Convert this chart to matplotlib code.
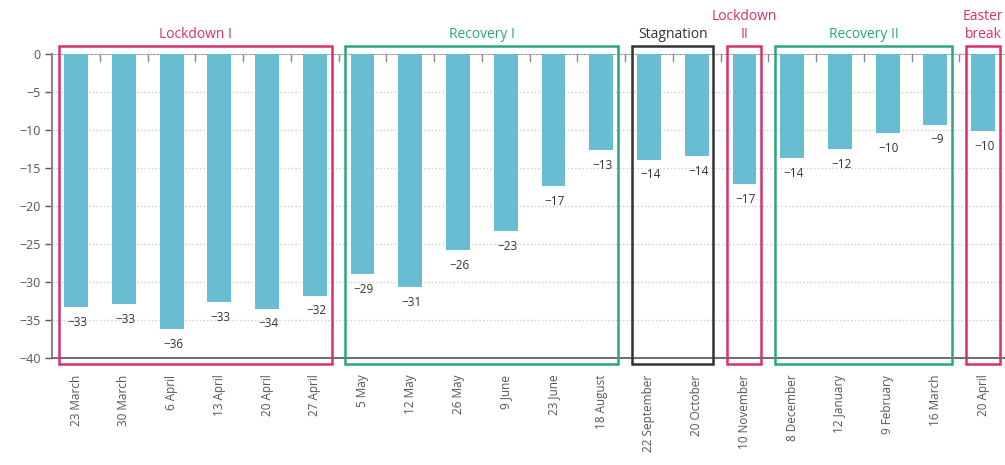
import numpy as np
import matplotlib.pyplot as plt
from matplotlib.patches import Rectangle

# Dati
dates = ["23 March", "30 March", "6 April", "13 April", "20 April", "27 April",
         "5 May", "12 May", "26 May", "9 June", "23 June", "18 August",
         "22 September", "20 October", "10 November",
         "8 December", "12 January", "9 February", "16 March", "20 April"]
values = [-33.3, -32.9, -36.2, -32.6, -33.5, -31.8,
          -29.0, -30.7, -25.8, -23.3, -17.4, -12.6,
          -13.9, -13.4, -17.1,
          -13.7, -12.5, -10.4, -9.3, -10.1]
labels = [-33, -33, -36, -33, -34, -32,
          -29, -31, -26, -23, -17, -13,
          -14, -14, -17,
          -14, -12, -10, -9, -10]

# fasi: nome, primo indice, ultimo indice, colore
phases = [("Lockdown I", 0, 5, "#d6306d"),
          ("Recovery I", 6, 11, "#2aa67c"),
          ("Stagnation", 12, 13, "#333333"),
          ("Lockdown\nII", 14, 14, "#d6306d"),
          ("Recovery II", 15, 18, "#2aa67c"),
          ("Easter\nbreak", 19, 19, "#d6306d")]

bar_color = "#68bdd2"

plt.rcParams['font.family'] = ['Open Sans', 'DejaVu Sans']

fig = plt.figure(figsize=(10.05, 4.65), dpi=100)
ax = fig.add_axes([0.052, 0.23, 0.95, 0.654])

x = np.arange(len(dates))
ax.bar(x, values, width=0.5, color=bar_color, zorder=2)

for xi, v, lab in zip(x, values, labels):
    ax.annotate(f"\u2212{abs(lab)}", (xi, v), xytext=(1, -11), textcoords="offset points",
                ha="center", va="center", fontsize=8.5, color="#333333")

ax.set_xlim(-0.5, 19.5)
ax.set_ylim(-40, 0)
ax.set_yticks(np.arange(-40, 1, 5))
ax.set_xticks(x)
ax.set_xticklabels(dates, rotation=90, fontsize=8.5, color="#555555")
ax.tick_params(axis="x", length=0, pad=12)
ax.tick_params(axis="y", labelsize=9, colors="#555555", length=5, width=1)

# piccoli tick tra le barre sulla linea dello zero
for b in x[:-1] + 0.5:
    ax.plot([b, b], [0, -0.9], color="#888888", lw=1, zorder=1, clip_on=False)

ax.grid(axis="y", linestyle=":", color="#cccccc", lw=1, zorder=0)
ax.axhline(0, color="#888888", lw=1.2, zorder=1)

for s in ["right", "top"]:
    ax.spines[s].set_visible(False)
ax.spines["left"].set_color("#888888")
ax.spines["left"].set_linewidth(1.5)
ax.spines["bottom"].set_color("#555555")
ax.spines["bottom"].set_linewidth(1.2)

for name, i0, i1, col in phases:
    left = i0 - 0.36
    right = i1 + 0.35
    rect = Rectangle((left, -40.8), right - left, 41.85, fill=False,
                     edgecolor=col, lw=1.8, zorder=3, clip_on=False)
    ax.add_patch(rect)
    ax.text((left + right) / 2, 1.6, name, ha="center", va="bottom",
            fontsize=10, color=col, linespacing=1.25, clip_on=False)

fig.savefig("out.png", dpi=100)
